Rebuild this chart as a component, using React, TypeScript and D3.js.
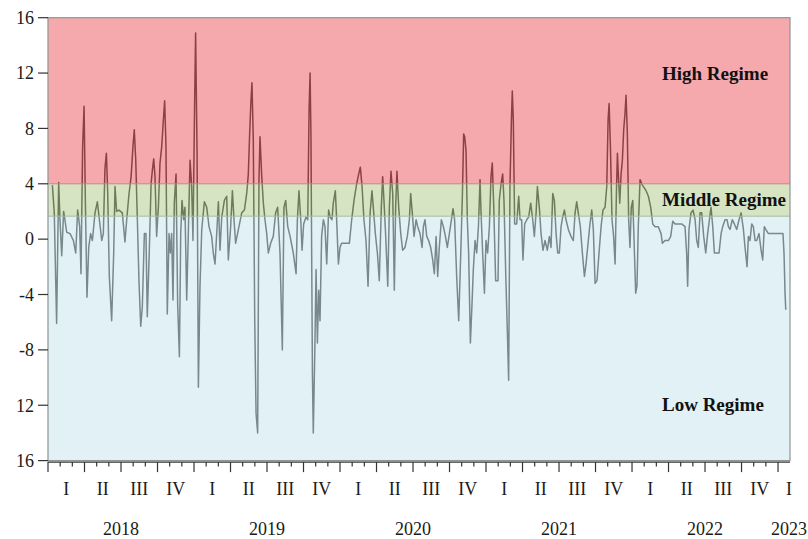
import React from "react";
import * as d3 from "d3";

// Weekly observations: time as decimal year, value in percent
const obsYear = [
  2018.030, 2018.043, 2018.059, 2018.073, 2018.082, 2018.094, 2018.107, 2018.116, 2018.128, 2018.151,
  2018.174, 2018.190, 2018.203, 2018.217, 2018.226, 2018.237, 2018.247, 2018.256, 2018.267, 2018.279,
  2018.292, 2018.304, 2018.322, 2018.338, 2018.352, 2018.368, 2018.379, 2018.390, 2018.400, 2018.409,
  2018.420, 2018.436, 2018.450, 2018.459, 2018.470, 2018.486, 2018.509, 2018.527, 2018.539, 2018.555,
  2018.569, 2018.582, 2018.591, 2018.601, 2018.612, 2018.623, 2018.635, 2018.646, 2018.660, 2018.671,
  2018.680, 2018.694, 2018.706, 2018.715, 2018.724, 2018.733, 2018.744, 2018.756, 2018.767, 2018.779,
  2018.790, 2018.799, 2018.808, 2018.817, 2018.829, 2018.838, 2018.847, 2018.856, 2018.865, 2018.877,
  2018.888, 2018.900, 2018.909, 2018.918, 2018.929, 2018.938, 2018.950, 2018.961, 2018.973, 2018.984,
  2018.993, 2019.005, 2019.011, 2019.021, 2019.030, 2019.041, 2019.053, 2019.071, 2019.087, 2019.103,
  2019.121, 2019.132, 2019.144, 2019.158, 2019.167, 2019.178, 2019.190, 2019.208, 2019.224, 2019.235,
  2019.251, 2019.263, 2019.274, 2019.285, 2019.304, 2019.327, 2019.345, 2019.361, 2019.372, 2019.381,
  2019.390, 2019.397, 2019.406, 2019.416, 2019.425, 2019.436, 2019.445, 2019.452, 2019.464, 2019.475,
  2019.486, 2019.498, 2019.509, 2019.525, 2019.543, 2019.559, 2019.573, 2019.589, 2019.605, 2019.616,
  2019.628, 2019.642, 2019.658, 2019.680, 2019.699, 2019.708, 2019.719, 2019.731, 2019.740, 2019.751,
  2019.767, 2019.779, 2019.788, 2019.795, 2019.801, 2019.811, 2019.817, 2019.827, 2019.836, 2019.845,
  2019.854, 2019.863, 2019.874, 2019.886, 2019.897, 2019.909, 2019.922, 2019.932, 2019.945, 2019.954,
  2019.968, 2019.977, 2019.989, 2020.000, 2020.011, 2020.034, 2020.064, 2020.080, 2020.096, 2020.114,
  2020.128, 2020.139, 2020.151, 2020.164, 2020.178, 2020.192, 2020.206, 2020.219, 2020.228, 2020.242,
  2020.256, 2020.269, 2020.283, 2020.292, 2020.301, 2020.313, 2020.327, 2020.338, 2020.349, 2020.361,
  2020.372, 2020.381, 2020.390, 2020.402, 2020.416, 2020.429, 2020.445, 2020.461, 2020.475, 2020.484,
  2020.495, 2020.507, 2020.521, 2020.532, 2020.548, 2020.562, 2020.571, 2020.582, 2020.594, 2020.607,
  2020.621, 2020.635, 2020.646, 2020.658, 2020.669, 2020.680, 2020.694, 2020.708, 2020.722, 2020.735,
  2020.749, 2020.763, 2020.774, 2020.785, 2020.799, 2020.813, 2020.827, 2020.838, 2020.847, 2020.854,
  2020.863, 2020.872, 2020.881, 2020.893, 2020.904, 2020.913, 2020.925, 2020.936, 2020.948, 2020.959,
  2020.966, 2020.977, 2020.989, 2021.000, 2021.011, 2021.023, 2021.034, 2021.043, 2021.053, 2021.066,
  2021.082, 2021.091, 2021.103, 2021.114, 2021.123, 2021.135, 2021.146, 2021.155, 2021.164, 2021.174,
  2021.180, 2021.187, 2021.196, 2021.210, 2021.224, 2021.233, 2021.244, 2021.253, 2021.265, 2021.279,
  2021.292, 2021.306, 2021.320, 2021.331, 2021.343, 2021.352, 2021.365, 2021.377, 2021.390, 2021.404,
  2021.420, 2021.434, 2021.445, 2021.457, 2021.468, 2021.480, 2021.491, 2021.502, 2021.514, 2021.525,
  2021.537, 2021.548, 2021.564, 2021.582, 2021.598, 2021.610, 2021.621, 2021.632, 2021.646, 2021.660,
  2021.674, 2021.685, 2021.696, 2021.710, 2021.724, 2021.735, 2021.747, 2021.760, 2021.774, 2021.788,
  2021.801, 2021.815, 2021.827, 2021.836, 2021.843, 2021.852, 2021.863, 2021.874, 2021.884, 2021.893,
  2021.900, 2021.906, 2021.916, 2021.925, 2021.934, 2021.943, 2021.952, 2021.959, 2021.968, 2021.977,
  2021.986, 2021.995, 2022.005, 2022.014, 2022.025, 2022.034, 2022.043, 2022.055, 2022.066, 2022.078,
  2022.096, 2022.112, 2022.128, 2022.142, 2022.158, 2022.180, 2022.199, 2022.208, 2022.226, 2022.249,
  2022.265, 2022.279, 2022.295, 2022.317, 2022.340, 2022.363, 2022.374, 2022.381, 2022.390, 2022.404,
  2022.418, 2022.432, 2022.443, 2022.454, 2022.466, 2022.477, 2022.491, 2022.505, 2022.518, 2022.530,
  2022.541, 2022.553, 2022.564, 2022.580, 2022.596, 2022.610, 2022.621, 2022.637, 2022.651, 2022.660,
  2022.671, 2022.687, 2022.701, 2022.717, 2022.733, 2022.747, 2022.763, 2022.774, 2022.788, 2022.797,
  2022.808, 2022.820, 2022.831, 2022.843, 2022.854, 2022.870, 2022.884, 2022.895, 2022.906, 2022.916,
  2022.934, 2022.980, 2023.034, 2023.041, 2023.048, 2023.053,
];

const obsValue = [
  3.9, 1.9, -6.1, 4.1, 1.4, -1.2, 2.0, 1.4, 0.5, 0.4,
  -0.1, -1.0, 2.1, 0.9, -2.5, 6.6, 9.6, 2.7, -4.2, -0.6,
  0.4, -0.1, 1.9, 2.7, 1.4, -0.1, 0.4, 5.1, 6.2, 3.3,
  -2.7, -5.9, -1.0, 3.8, 2.0, 2.1, 1.9, -0.2, 1.4, 3.3,
  4.5, 6.7, 7.9, 5.7, 1.4, -3.0, -6.3, -4.9, 0.4, 0.4,
  -5.6, -0.8, 4.0, 5.0, 5.8, 4.5, 0.2, 2.3, 5.5, 6.7,
  8.6, 10.0, 6.7, -5.4, 0.4, -1.0, 0.4, -4.4, 2.6, 4.7,
  -4.7, -8.5, 0.4, 2.8, 1.4, 2.3, -4.4, 0.4, 5.7, 3.8,
  -0.1, 10.5, 14.9, 6.2, -10.7, -3.4, 0.7, 2.7, 2.3, 0.9,
  0.2, -1.0, -1.8, 0.9, 2.7, -0.8, 1.6, 2.8, 3.1, -1.5,
  0.9, 3.5, 1.4, -0.3, 0.7, 1.9, 2.1, 3.3, 4.7, 7.6,
  10.0, 11.3, 7.2, -5.9, -12.6, -14.0, 4.3, 7.4, 4.5, 2.6,
  1.4, 0.4, -1.0, -0.3, 0.2, 1.9, 2.3, -1.0, -8.0, 2.3,
  2.8, 0.9, 0.2, -1.0, -2.5, 1.4, 3.5, 1.4, -0.8, 1.1,
  1.6, 1.4, 9.3, 12.0, 7.4, -9.7, -14.0, -8.3, -2.2, -7.5,
  -3.7, -5.9, 0.2, 1.4, 0.9, -1.8, 2.1, 1.6, 1.4, 2.6,
  3.5, 1.4, -1.8, -0.6, -0.3, -0.3, -0.3, 1.4, 2.8, 4.0,
  4.7, 5.2, 3.8, 1.4, -0.1, -3.4, 1.9, 3.5, 2.3, 0.4,
  -1.0, -3.0, 2.3, 4.5, 2.8, 0.2, -3.4, 2.3, 4.9, 3.3,
  -3.7, 2.3, 4.9, 2.3, 0.4, -0.8, -0.6, 0.2, 1.4, 3.3,
  1.9, 0.2, 1.4, 0.9, 0.4, -0.6, 0.9, 1.4, 0.2, -0.1,
  -0.6, -1.5, -2.5, 0.2, -2.7, -0.6, 1.4, 0.9, 0.2, -0.6,
  0.4, 1.4, 2.2, 1.4, -2.7, -5.9, -1.0, 3.1, 7.6, 7.4,
  6.4, 1.4, -1.0, -7.5, -4.7, -2.2, -0.1, -1.0, 0.9, 4.3,
  1.9, -1.0, -3.9, -0.1, -1.0, 0.9, 4.5, 5.5, 2.3, -3.0,
  -3.0, 2.8, 4.0, 4.7, 2.8, -2.5, -6.6, -10.2, 3.8, 8.6,
  10.7, 8.6, 1.1, 1.1, 3.1, 1.4, 1.4, -1.5, 1.1, 1.4,
  1.6, 2.6, 1.4, 0.2, 1.9, 3.8, 2.3, 0.4, -0.8, -0.1,
  -0.8, 0.2, -0.6, 3.3, 2.8, 0.4, -1.0, -1.0, 0.9, 1.6,
  2.1, 1.4, 0.7, 0.2, -0.1, 1.9, 2.7, 1.9, 0.9, -1.0,
  -2.7, -1.8, -0.6, 0.9, 2.1, 0.7, -3.2, -3.0, -1.0, 0.9,
  2.1, 2.3, 3.8, 8.6, 9.8, 6.7, 1.4, 0.2, -1.8, 3.3,
  6.2, 4.7, 2.6, 4.7, 5.7, 7.9, 9.1, 10.4, 7.6, 1.4,
  -0.6, 2.3, 2.8, -0.1, -3.9, -3.4, 0.9, 4.3, 4.0, 3.8,
  3.5, 3.1, 2.3, 1.1, 0.9, 0.9, 0.4, -0.3, -0.1, -0.1,
  0.2, 1.3, 1.1, 1.1, 1.1, 0.9, -1.0, -3.4, 0.7, 1.9,
  2.1, 1.4, -0.1, -0.6, 1.9, 1.9, 0.2, -1.0, 0.4, 1.4,
  2.3, 0.9, -1.0, -1.0, -1.0, 0.4, 0.9, 1.4, 1.4, 0.9,
  0.7, 1.4, 1.1, 0.7, 1.4, 1.9, 0.7, -0.6, -2.0, 0.2,
  -0.1, 1.1, 0.9, -0.1, -0.1, 0.4, -0.8, -1.5, 0.9, 0.7,
  0.4, 0.4, 0.4, -1.0, -3.9, -5.1,
];

// Regime thresholds
const regimeNames = ["High Regime", "Middle Regime", "Low Regime"];
const regimeUpper = [16, 4, 1.66];
const regimeLower = [4, 1.66, -16];

// Axis ticks
const yTicks = [16, 12, 8, 4, 0, -4, -8, -12, -16];
const yTickLabels = ["16", "12", "8", "4", "0", "-4", "-8", "12", "16"];
const quarterLabels = ["I", "II", "III", "IV"];
const yearLabels = ["2018", "2019", "2020", "2021", "2022", "2023"];

const START_YEAR = 2018;
const END_YEAR = 2023.082;

const W = 808;
const H = 539;
const M = { left: 48, right: 18, top: 17.7, bottom: 78.4 };

// Translucent overlays laid over the series
const regimeFill = ["rgb(238,99,104)", "rgb(180,206,146)", "rgb(202,230,237)"];
const regimeOpacity = 0.55;
const regimeLabelY = [80, 206, 411];

const FONT = "'Liberation Serif', 'Times New Roman', serif";

export default function App() {
  const x = d3.scaleLinear().domain([START_YEAR, END_YEAR]).range([M.left, W - M.right]);
  const y = d3.scaleLinear().domain([-16, 16]).range([H - M.bottom, M.top]);

  const line = d3
    .line<number>()
    .x((_, i) => x(obsYear[i]))
    .y((d) => y(d));

  const monthTicks = d3.range(0, 61).map((m) => ({ t: START_YEAR + m / 12, major: m % 3 === 0 }));
  const quarters = d3.range(0, 21).map((q) => {
    const c = START_YEAR + q * 0.25 + 0.125;
    return { label: quarterLabels[q % 4], pos: Math.min(x(c), x(END_YEAR) - 1) };
  });
  const years = yearLabels.map((lab, i) => ({
    label: lab,
    pos: Math.min(x(START_YEAR + i + 0.5), x(END_YEAR) - 1),
  }));

  const plotBottom = y(-16);
  const plotTop = y(16);
  const plotLeft = x(START_YEAR);
  const plotRight = x(END_YEAR);

  return (
    <svg
      width={W}
      height={H}
      style={{ position: "fixed", left: 0, top: 0, background: "#fff" }}
      fontFamily={FONT}
    >
      {/* series */}
      <path d={line(obsValue) ?? ""} fill="none" stroke="#141818" strokeWidth={1.5} strokeLinejoin="round" />

      {/* regime bands */}
      {regimeNames.map((name, i) => (
        <rect
          key={name}
          x={plotLeft}
          width={plotRight - plotLeft}
          y={y(regimeUpper[i])}
          height={y(regimeLower[i]) - y(regimeUpper[i])}
          fill={regimeFill[i]}
          fillOpacity={regimeOpacity}
        />
      ))}
      {/* band edges */}
      {[regimeLower[0], regimeLower[1]].map((v, i) => (
        <line
          key={i}
          x1={plotLeft}
          x2={plotRight}
          y1={y(v)}
          y2={y(v)}
          stroke={i === 0 ? "#c98386" : "#a9b9a2"}
          strokeWidth={1}
        />
      ))}

      {/* frame */}
      <rect
        x={plotLeft}
        y={plotTop}
        width={plotRight - plotLeft}
        height={plotBottom - plotTop}
        fill="none"
        stroke="#8f9494"
        strokeWidth={1.2}
      />

      {/* regime labels */}
      {regimeNames.map((name, i) => (
        <text
          key={name}
          x={662}
          y={regimeLabelY[i]}
          fontSize={19}
          fontWeight="bold"
          fill="#111"
        >
          {name}
        </text>
      ))}

      {/* y axis */}
      <g>
        {yTicks.map((v, i) => (
          <g key={v}>
            <line x1={plotLeft - 10} x2={plotLeft} y1={y(v)} y2={y(v)} stroke="#333" strokeWidth={1.2} />
            <text x={34} y={y(v)} dy="0.35em" textAnchor="end" fontSize={18} fill="#1a1a1a">
              {yTickLabels[i]}
            </text>
          </g>
        ))}
      </g>

      {/* x axis */}
      <g>
        <line x1={plotLeft} x2={plotRight} y1={plotBottom + 1.5} y2={plotBottom + 1.5} stroke="#333" strokeWidth={1.2} />
        {monthTicks.map((m, i) => (
          <line
            key={i}
            x1={x(m.t)}
            x2={x(m.t)}
            y1={plotBottom + 1.5}
            y2={plotBottom + 1.5 + (m.major ? 10 : 4.5)}
            stroke="#333"
            strokeWidth={1.2}
          />
        ))}
        {quarters.map((q, i) => (
          <text key={i} x={q.pos} y={495} textAnchor="middle" fontSize={18} fill="#1a1a1a">
            {q.label}
          </text>
        ))}
        {years.map((yr) => (
          <text key={yr.label} x={yr.pos} y={535} textAnchor="middle" fontSize={18} fill="#1a1a1a">
            {yr.label}
          </text>
        ))}
      </g>
    </svg>
  );
}
